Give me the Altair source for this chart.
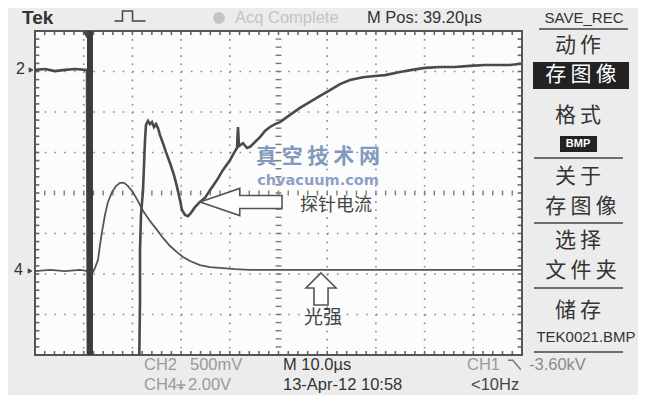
import altair as alt
import pandas as pd
import numpy as np

# ---------------- data (time in µs, amplitude in screen divisions) ----------------
ch2_t = [0, 2.05, 4.11, 6.16, 8.21, 10.68, 10.88, 21.36, 21.56, 21.56, 21.77, 22.18, 22.59, 22.79,
         23.20, 23.61, 24.02, 24.44, 24.85, 25.26, 25.67, 26.28, 26.90, 27.72, 28.54, 29.16, 29.77,
         30.18, 30.80, 31.42, 32.03, 32.85, 33.88, 34.91, 35.93, 37.37, 38.60, 40.04, 40.86, 41.48,
         41.68, 41.89, 42.71, 43.53, 44.15, 45.17, 46.20, 47.23, 48.25, 49.28, 50.31, 52.36, 54.41,
         56.47, 58.52, 60.57, 62.63, 64.68, 67.35, 69.82, 71.87, 74.95, 77.41, 80.08, 83.16, 86.24,
         89.32, 92.40, 95.48, 97.54, 99.79]
ch2_v = [3.04, 3.06, 3.01, 3.04, 3.06, 3.04, -4.6, -4.6, -2.64, -1.41, -0.54, 0.07, 1.31, 1.68,
         1.78, 1.70, 1.75, 1.63, 1.70, 1.60, 1.43, 1.23, 1.01, 0.74, 0.44, 0.15, -0.17,
         -0.42, -0.54, -0.57, -0.49, -0.35, -0.22, -0.12, 0.07, 0.32, 0.57, 0.81, 0.99, 1.11,
         1.63, 1.16, 1.23, 1.11, 1.14, 1.26, 1.38, 1.53, 1.63, 1.70, 1.75, 1.93, 2.10,
         2.25, 2.40, 2.54, 2.69, 2.79, 2.86, 2.89, 2.91, 2.99, 3.04, 3.09, 3.11, 3.11,
         3.14, 3.16, 3.16, 3.16, 3.19]

ch4_t = [0, 3.08, 6.16, 9.24, 10.88, 11.91, 12.32, 12.94, 13.35, 13.76, 14.37, 14.99, 15.81, 16.63,
         17.45, 18.28, 19.10, 20.12, 21.15, 22.18, 23.61, 25.05, 26.28, 27.72, 29.16, 30.39, 31.83,
         33.88, 35.93, 37.99, 41.07, 44.15, 54.41, 64.68, 74.95, 85.22, 99.79]
ch4_v = [-1.93, -1.90, -1.93, -1.90, -1.93, -1.95, -1.85, -1.65, -1.28, -0.96, -0.54, -0.22, 0.02, 0.17,
         0.25, 0.25, 0.17, 0.02, -0.20, -0.44, -0.69, -0.91, -1.11, -1.31, -1.46, -1.58, -1.68,
         -1.78, -1.83, -1.85, -1.88, -1.90, -1.90, -1.90, -1.90, -1.90, -1.90]

ch1_t = [11.29, 11.29]
ch1_v = [4.0, -4.0]

# ---------------- layout ----------------
W, H = 487, 324
PX0, PY0 = 35, 31
UI = "Liberation Sans, sans-serif"
CJK = "Noto Sans CJK SC"
xs = alt.Scale(domain=[0, 100], nice=False, zero=False)
ys = alt.Scale(domain=[-4, 4], nice=False, zero=False)
dummy = pd.DataFrame({"d": [0]})
SP = "\u2009"


def T(text, x, y, size, color="#333333", weight="normal", align="center", font=UI):
    return alt.Chart(dummy).mark_text(text=text, fontSize=size, color=color, fontWeight=weight,
                                      align=align, baseline="middle", font=font).encode(
        x=alt.value(x - PX0), y=alt.value(y - PY0))


def L(x1, y1, x2, y2, color="#444444", width=1.5):
    return alt.Chart(dummy).mark_rule(color=color, strokeWidth=width).encode(
        x=alt.value(x1 - PX0), x2=alt.value(x2 - PX0), y=alt.value(y1 - PY0), y2=alt.value(y2 - PY0))


def BOX(x1, y1, x2, y2, fill="#222222"):
    return alt.Chart(dummy).mark_rect(fill=fill).encode(
        x=alt.value(x1 - PX0), x2=alt.value(x2 - PX0), y=alt.value(y1 - PY0), y2=alt.value(y2 - PY0))


def SYM(path, x, y, size, filled=False, color="#444444", width=1.5, fill="white"):
    props = dict(shape=path, size=size, strokeWidth=width, opacity=1)
    if filled:
        props.update(filled=True, fill=fill, stroke=color, fillOpacity=1)
    else:
        props.update(filled=False, stroke=color)
    return alt.Chart(dummy).mark_point(**props).encode(x=alt.value(x - PX0), y=alt.value(y - PY0))


layers = []

# dotted graticule
gx = pd.DataFrame({"t": [10, 20, 30, 40, 60, 70, 80, 90]})
gy = pd.DataFrame({"v": [-3, -2, -1, 1, 2, 3]})
layers.append(alt.Chart(gx).mark_rule(color="#8a8a8a", strokeWidth=1.6, strokeDash=[1.6, 6.5]).encode(
    x=alt.X("t:Q", scale=xs, axis=None), y=alt.value(0), y2=alt.value(H)))
layers.append(alt.Chart(gy).mark_rule(color="#8a8a8a", strokeWidth=1.6, strokeDash=[1.6, 8.14]).encode(
    y=alt.Y("v:Q", scale=ys, axis=None), x=alt.value(0), x2=alt.value(W)))

# center crosshair ticks and border ticks
vt = np.round(np.arange(-4, 4.01, 0.2), 2)
ht = np.round(np.arange(0, 100.1, 2), 2)
cv = pd.DataFrame({"v": vt, "a": 49.4, "b": 50.6})
ch = pd.DataFrame({"t": ht, "a": -0.06, "b": 0.06})
layers.append(alt.Chart(cv).mark_rule(color="#7a7a7a", strokeWidth=1.4).encode(
    y=alt.Y("v:Q", scale=ys), x=alt.X("a:Q", scale=xs), x2="b:Q"))
layers.append(alt.Chart(ch).mark_rule(color="#7a7a7a", strokeWidth=1.4).encode(
    x=alt.X("t:Q", scale=xs), y=alt.Y("a:Q", scale=ys), y2="b:Q"))
bt = pd.concat([pd.DataFrame({"t": ht, "a": 4.0, "b": 3.9}), pd.DataFrame({"t": ht, "a": -4.0, "b": -3.9})])
bl = pd.concat([pd.DataFrame({"v": vt, "a": 0.0, "b": 0.9}), pd.DataFrame({"v": vt, "a": 100.0, "b": 99.1})])
layers.append(alt.Chart(bt).mark_rule(color="#666666", strokeWidth=1.6).encode(
    x=alt.X("t:Q", scale=xs), y=alt.Y("a:Q", scale=ys), y2="b:Q"))
layers.append(alt.Chart(bl).mark_rule(color="#666666", strokeWidth=1.6).encode(
    y=alt.Y("v:Q", scale=ys), x=alt.X("a:Q", scale=xs), x2="b:Q"))

# border
layers.append(alt.Chart(dummy).mark_rect(fillOpacity=0, stroke="#555555", strokeWidth=2).encode(
    x=alt.value(0), x2=alt.value(W), y=alt.value(0), y2=alt.value(H)))

# traces
d2 = pd.DataFrame({"t": ch2_t, "v": ch2_v, "o": range(len(ch2_t))})
d4 = pd.DataFrame({"t": ch4_t, "v": ch4_v, "o": range(len(ch4_t))})
d1 = pd.DataFrame({"t": ch1_t, "v": ch1_v, "o": range(len(ch1_t))})
layers.append(alt.Chart(d4).mark_line(color="#555555", strokeWidth=1.8, clip=True).encode(
    x=alt.X("t:Q", scale=xs), y=alt.Y("v:Q", scale=ys), order="o:Q"))
layers.append(alt.Chart(d2).mark_line(color="#4a4a4a", strokeWidth=2.6, clip=True).encode(
    x=alt.X("t:Q", scale=xs), y=alt.Y("v:Q", scale=ys), order="o:Q"))
layers.append(alt.Chart(d1).mark_line(color="#3c3c3c", strokeWidth=6, clip=True).encode(
    x=alt.X("t:Q", scale=xs), y=alt.Y("v:Q", scale=ys), order="o:Q"))

# trigger marker and channel markers
layers.append(SYM("triangle-down", 87, 35, 45, filled=True, color="#444444", width=1, fill="#444444"))
layers.append(T("2", 25, 69, 16, "#333333", align="right"))
layers.append(SYM("triangle-right", 31, 70, 18, filled=True, color="#444444", width=1, fill="#444444"))
layers.append(T("4", 23, 270, 16, "#333333", align="right"))
layers.append(SYM("triangle-right", 30, 271, 18, filled=True, color="#444444", width=1, fill="#444444"))

# annotation arrows and labels
left_arrow = "M -1 0 L -0.03 -0.33 L -0.03 -0.16 L 1 -0.16 L 1 0.16 L -0.03 0.16 L -0.03 0.33 Z"
layers.append(SYM(left_arrow, 241, 202, 6724, filled=True, color="#555555", width=1.6))
up_arrow = "M 0 -1 L 0.94 -0.06 L 0.44 -0.06 L 0.44 1 L -0.44 1 L -0.44 -0.06 L -0.94 -0.06 Z"
layers.append(SYM(up_arrow, 321, 289, 1024, filled=True, color="#555555", width=1.6))
layers.append(T("探针电流", 336, 206, 18, "#444444", font=CJK))
layers.append(T("光强", 323, 318, 19, "#444444", font=CJK))

# watermark
layers.append(T("真 空 技 术 网", 318, 157, 21, "#8298be", weight="bold", font=CJK))
layers.append(T("chvacuum.com", 318, 181, 14.5, "#8ca1c6", weight="bold", font="DejaVu Sans"))

# top status bar
layers.append(T("Tek", 22, 18, 19, "#333333", weight="bold", align="left"))
layers.append(SYM("M -0.97 0.31 L -0.47 0.31 L -0.47 -0.31 L 0.16 -0.31 L 0.16 0.31 L 0.97 0.31",
                  130, 16, 1024, color="#444444", width=1.5))
layers.append(SYM("circle", 219, 18, 140, filled=True, color="#c4c4c4", width=0, fill="#c4c4c4"))
layers.append(T("Acq Complete", 235, 18, 16.5, "#c4c4c4", align="left"))
layers.append(T("M Pos: 39.20\u00b5s", 367, 18, 16.5, "#333333", align="left"))

# right menu
MS = 21
layers.append(T("SAVE_REC", 584, 18, 15, "#333333"))
layers.append(L(539, 29, 628, 29))
layers.append(T(SP.join("动作"), 578, 46, MS, "#333333", font=CJK))
layers.append(BOX(533, 62, 629, 89))
layers.append(T(SP.join("存图像"), 581, 75, MS, "#ffffff", font=CJK))
layers.append(T(SP.join("格式"), 578, 116, MS, "#333333", font=CJK))
layers.append(BOX(560, 136, 597, 152))
layers.append(T("BMP", 578, 144, 11, "#ffffff", weight="bold"))
layers.append(L(534, 158, 623, 158))
layers.append(T(SP.join("关于"), 578, 177, MS, "#333333", font=CJK))
layers.append(T(SP.join("存图像"), 581, 207, MS, "#333333", font=CJK))
layers.append(L(534, 223, 623, 223))
layers.append(T(SP.join("选择"), 578, 241, MS, "#333333", font=CJK))
layers.append(T(SP.join("文件夹"), 581, 271, MS, "#333333", font=CJK))
layers.append(L(534, 288, 623, 288))
layers.append(T(SP.join("储存"), 578, 311, MS, "#333333", font=CJK))
layers.append(T("TEK0021.BMP", 586, 337, 15, "#333333"))
layers.append(L(534, 352, 623, 352))

# bottom status
FS = 16.5
layers.append(T("CH2", 144, 365, FS, "#9a9a9a", align="left"))
layers.append(T("500mV", 190, 365, FS, "#9a9a9a", align="left"))
layers.append(T("M 10.0\u00b5s", 283, 365, FS, "#333333", align="left"))
layers.append(T("CH1", 467, 365, FS, "#9a9a9a", align="left"))
layers.append(SYM("M -1 -0.6 L -0.4 -0.6 L 0.6 0.6", 516, 365, 256, color="#777777", width=1.4))
layers.append(T("-3.60kV", 529, 365, FS, "#8a8a8a", align="left"))
layers.append(T("CH4", 144, 385, FS, "#9a9a9a", align="left"))
layers.append(SYM("M 0 -1 L 0 1 M -0.9 0 L 0.9 0 M -0.5 0.5 L 0.5 0.5", 181, 385, 100, color="#9a9a9a", width=1.3))
layers.append(T("2.00V", 188, 385, FS, "#9a9a9a", align="left"))
layers.append(T("13-Apr-12 10:58", 283, 385, FS, "#333333", align="left"))
layers.append(T("<10Hz", 471, 385, FS, "#444444", align="left"))

chart = alt.layer(*layers).properties(
    width=W, height=H, autosize="none",
    padding={"left": 27, "top": 23, "right": 116, "bottom": 40},
    background="#ececec",
).configure_view(fill="#fcfcfc", stroke=None)

chart.save("out.html", embed_options={"renderer": "svg", "actions": False})
